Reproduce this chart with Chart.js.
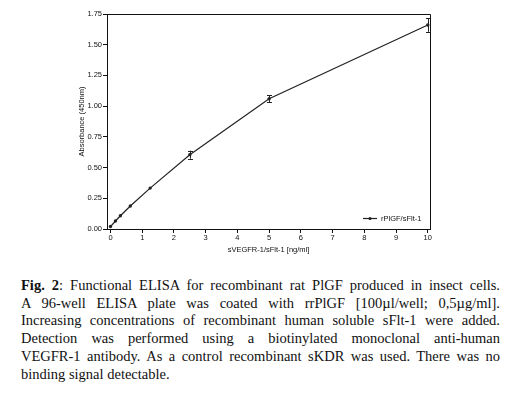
<!DOCTYPE html>
<html>
<head>
<meta charset="utf-8">
<script src="https://cdn.jsdelivr.net/npm/chart.js@4/dist/chart.umd.min.js"></script>
<style>
  html, body { margin: 0; padding: 0; background: #fff; }
  body { width: 512px; height: 397px; position: relative; overflow: hidden; }
  #wrap { position: absolute; left: 0; top: 0; width: 512px; height: 262px; }
  #caption {
    position: absolute; left: 21px; top: 277px; width: 479px;
    font-family: "Liberation Serif", "Times New Roman", serif;
    font-size: 14.5px; line-height: 17.7px; color: #111;
  }
  #caption div { white-space: nowrap; text-align: justify; text-align-last: justify; }
  #caption div.last { text-align-last: left; }
</style>
</head>
<body>
<div id="wrap"><canvas id="c" width="512" height="262"></canvas></div>
<div id="caption">
<div><b>Fig. 2</b>: Functional ELISA for recombinant rat PlGF produced in insect cells.</div>
<div>A 96-well ELISA plate was coated with rrPlGF [100µl/well; 0,5µg/ml].</div>
<div>Increasing concentrations of recombinant human soluble sFlt-1 were added.</div>
<div>Detection was performed using a biotinylated monoclonal anti-human</div>
<div>VEGFR-1 antibody. As a control recombinant sKDR was used. There was no</div>
<div class="last">binding signal detectable.</div>
</div>
<script>
const seriesLabel = "rPlGF/sFlt-1";
const concentrations = [0, 0.156, 0.3125, 0.625, 1.25, 2.5, 5, 10];
const absorbance = [0.02, 0.065, 0.108, 0.187, 0.333, 0.605, 1.06, 1.66];
const errors = [0, 0, 0, 0, 0, 0.033, 0.03, 0.055];
const xTicks = [0, 1, 2, 3, 4, 5, 6, 7, 8, 9, 10];
const yTicks = [0, 0.25, 0.5, 0.75, 1.0, 1.25, 1.5, 1.75];
const xTitle = "sVEGFR-1/sFlt-1 [ng/ml]";
const yTitle = "Absorbance (450nm)";

const INK = "#111";
const FONT = { family: "'Liberation Sans', Arial, sans-serif", size: 7.5 };

const boxPlugin = {
  id: 'box',
  afterDraw(chart) {
    const { ctx, chartArea: a } = chart;
    ctx.save();
    ctx.strokeStyle = INK;
    ctx.lineWidth = 1;
    ctx.beginPath();
    ctx.moveTo(a.left, a.top + 0.5);
    ctx.lineTo(a.right + 0.5, a.top + 0.5);
    ctx.lineTo(a.right + 0.5, a.bottom);
    ctx.stroke();
    ctx.restore();
  }
};

const errorBarPlugin = {
  id: 'errbars',
  afterDatasetsDraw(chart) {
    const { ctx, scales: { x, y } } = chart;
    ctx.save();
    ctx.strokeStyle = "#222";
    ctx.lineWidth = 1;
    concentrations.forEach((c, i) => {
      const e = errors[i];
      if (!e) return;
      const px = Math.round(x.getPixelForValue(c)) + 0.5;
      const y1 = y.getPixelForValue(absorbance[i] - e);
      const y2 = y.getPixelForValue(absorbance[i] + e);
      ctx.beginPath();
      ctx.moveTo(px, y1); ctx.lineTo(px, y2);
      ctx.moveTo(px - 2.5, Math.round(y1) + 0.5); ctx.lineTo(px + 2.5, Math.round(y1) + 0.5);
      ctx.moveTo(px - 2.5, Math.round(y2) + 0.5); ctx.lineTo(px + 2.5, Math.round(y2) + 0.5);
      ctx.stroke();
    });
    ctx.restore();
  }
};

const legendPlugin = {
  id: 'innerLegend',
  afterDraw(chart) {
    const { ctx, chartArea: a } = chart;
    const ly = a.bottom - 10.5;
    const lx = a.right - 67;
    ctx.save();
    ctx.strokeStyle = "#222";
    ctx.fillStyle = "#222";
    ctx.lineWidth = 1.2;
    ctx.beginPath();
    ctx.moveTo(lx, ly); ctx.lineTo(lx + 14, ly);
    ctx.stroke();
    ctx.beginPath();
    ctx.arc(lx + 7, ly, 1.6, 0, Math.PI * 2);
    ctx.fill();
    ctx.fillStyle = INK;
    ctx.font = FONT.size + "px " + FONT.family;
    ctx.textBaseline = "middle";
    ctx.textAlign = "left";
    ctx.fillText(chart.data.datasets[0].label, lx + 18, ly + 0.5);
    ctx.restore();
  }
};

new Chart(document.getElementById('c'), {
  type: 'line',
  data: {
    datasets: [{
      label: seriesLabel,
      data: concentrations.map((c, i) => ({ x: c, y: absorbance[i] })),
      borderColor: "#222",
      backgroundColor: "#222",
      borderWidth: 1.2,
      pointRadius: 1.7,
      pointBorderWidth: 0,
      pointBackgroundColor: "#222",
      tension: 0,
      fill: false
    }]
  },
  options: {
    responsive: false,
    animation: false,
    devicePixelRatio: 1,
    layout: { padding: { left: 0, right: 82, top: 14, bottom: 0 } },
    plugins: { legend: { display: false }, tooltip: { enabled: false } },
    scales: {
      x: {
        type: 'linear',
        min: -0.11,
        max: 10.07,
        afterBuildTicks(scale) { scale.ticks = xTicks.map(v => ({ value: v })); },
        afterFit(scale) { scale.height = 33; },
        border: { display: true, color: INK, width: 1 },
        grid: { display: true, drawOnChartArea: false, drawTicks: true, tickLength: 4, color: INK, tickColor: INK },
        ticks: { color: INK, font: FONT, padding: 0, maxRotation: 0, callback: v => String(v) },
        title: { display: true, text: xTitle, color: INK, font: FONT, padding: { top: 0, bottom: 7.5 } }
      },
      y: {
        type: 'linear',
        min: 0,
        max: 1.75,
        afterBuildTicks(scale) { scale.ticks = yTicks.map(v => ({ value: v })); },
        afterFit(scale) { scale.width = 107; },
        border: { display: true, color: INK, width: 1 },
        grid: { display: true, drawOnChartArea: false, drawTicks: true, tickLength: 4, color: INK, tickColor: INK },
        ticks: { color: INK, font: FONT, padding: 1, callback: v => Number(v).toFixed(2) },
        title: { display: true, text: yTitle, color: INK, font: FONT, padding: { top: 77, bottom: 0 } }
      }
    }
  },
  plugins: [boxPlugin, errorBarPlugin, legendPlugin]
});
</script>
</body>
</html>
